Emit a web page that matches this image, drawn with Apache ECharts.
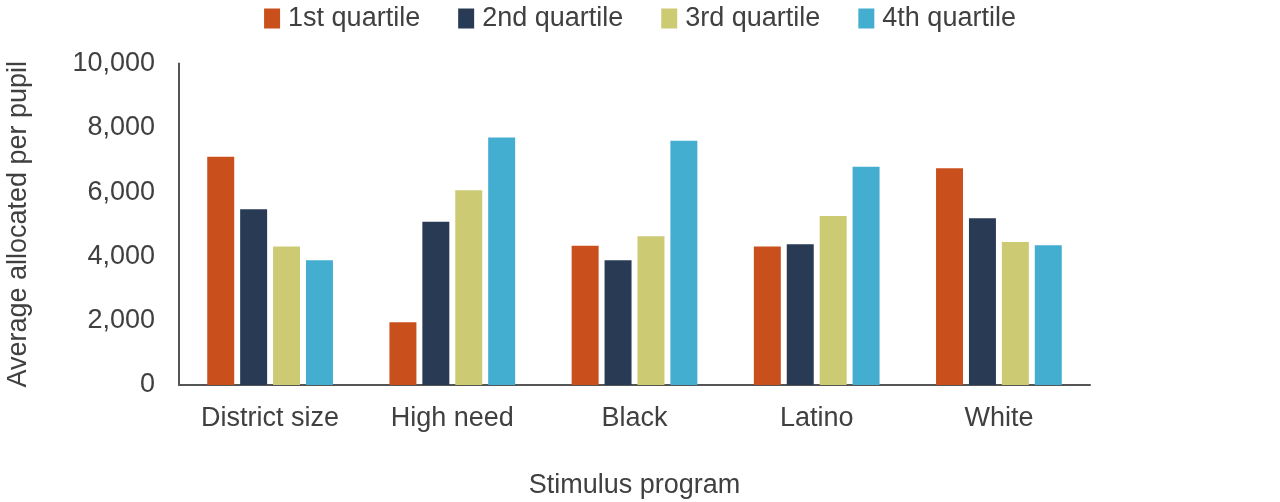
<!DOCTYPE html>
<html><head><meta charset="utf-8">
<script src="https://cdn.jsdelivr.net/npm/echarts@6/dist/echarts.min.js"></script>
<style>html,body{margin:0;padding:0;background:#fff}#c{width:1280px;height:502px}</style>
</head><body><div id="c"></div>
<script>
const categories = ['District size', 'High need', 'Black', 'Latino', 'White'];
const seriesNames = ['1st quartile', '2nd quartile', '3rd quartile', '4th quartile'];
const q1 = [7100, 1950, 4330, 4310, 6740];
const q2 = [5470, 5080, 3880, 4380, 5190];
const q3 = [4310, 6060, 4630, 5260, 4450];
const q4 = [3880, 7700, 7600, 6790, 4350];
const colors = ['#C94F1C', '#283A54', '#CDCA74', '#44AED1'];
const values = [q1, q2, q3, q4];
const FONT = 'Liberation Sans, Arial, sans-serif';
const chart = echarts.init(document.getElementById('c'));
chart.setOption({
  animation: false,
  color: colors,
  textStyle: { fontFamily: FONT },
  legend: {
    top: 0, left: 'center',
    itemWidth: 16, itemHeight: 20, itemGap: 38,
    icon: 'rect',
    textStyle: { fontSize: 27, color: '#404040', fontFamily: FONT, padding: [0, 0, 0, 3] },
    data: seriesNames
  },
  grid: { left: 179, right: 190, top: 63.5, bottom: 117, containLabel: false, outerBoundsMode: 'none' },
  xAxis: {
    type: 'category', data: categories,
    axisLine: { lineStyle: { color: '#555', width: 2 } },
    axisTick: { show: false },
    axisLabel: { fontSize: 27, color: '#404040', margin: 20, fontFamily: FONT },
    name: 'Stimulus program', nameLocation: 'middle', nameGap: 87,
    nameTextStyle: { fontSize: 27, color: '#404040', fontFamily: FONT }
  },
  yAxis: {
    type: 'value', min: 0, max: 10000, interval: 2000,
    axisLine: { show: true, lineStyle: { color: '#555', width: 2 } },
    axisTick: { show: false },
    splitLine: { show: false },
    axisLabel: { fontSize: 27, color: '#404040', margin: 24, fontFamily: FONT,
      formatter: v => v.toLocaleString('en-US') },
    name: 'Average allocated per pupil', nameLocation: 'middle', nameGap: 147,
    nameTextStyle: { fontSize: 27, color: '#404040', fontFamily: FONT }
  },
  series: seriesNames.map((n, i) => ({
    name: n, type: 'bar', data: values[i],
    barGap: '22%', barCategoryGap: '31%',
    itemStyle: { color: colors[i] }
  }))
});
</script></body></html>
